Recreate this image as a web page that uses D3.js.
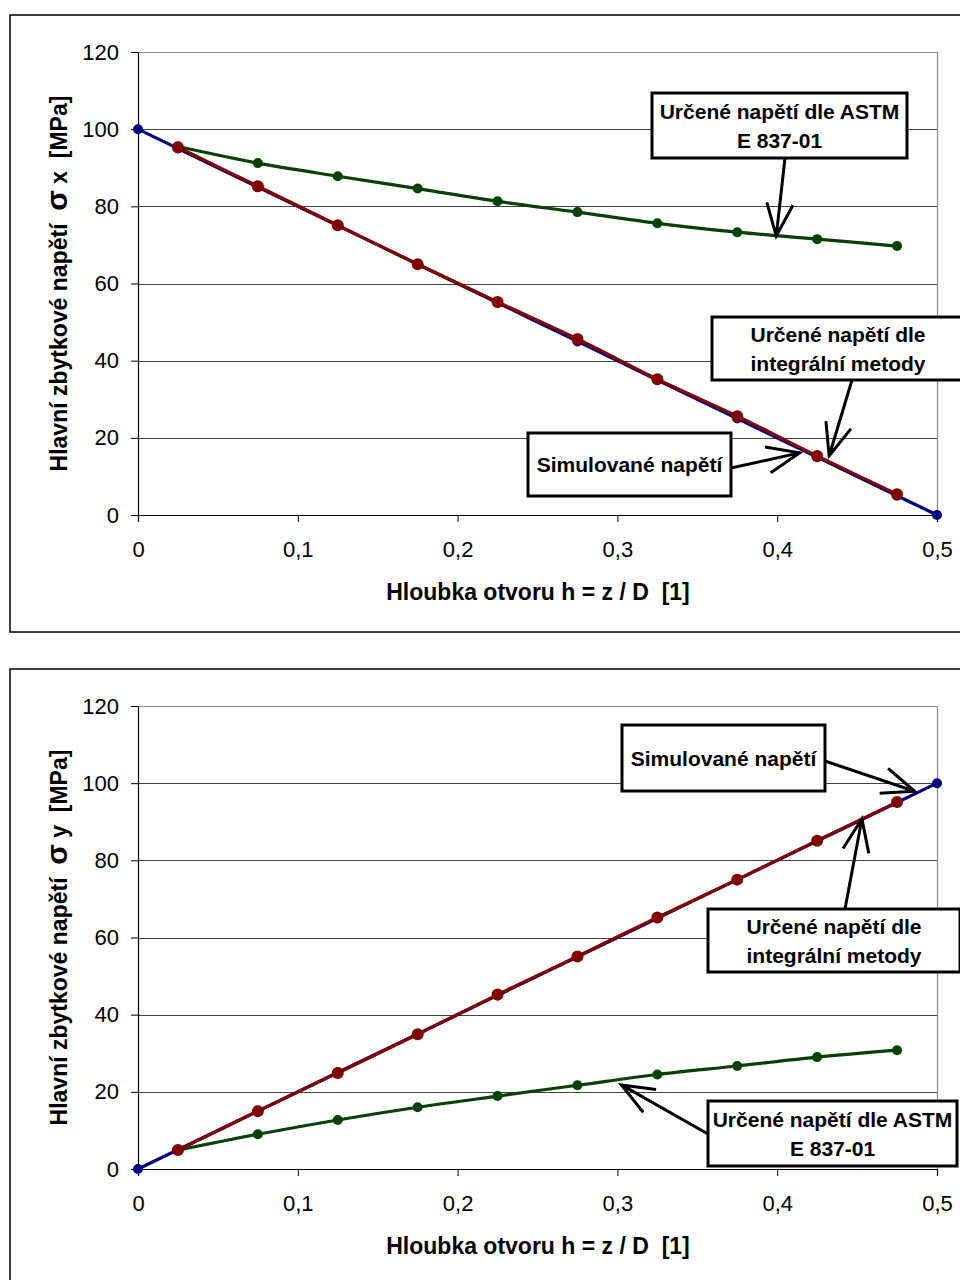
<!DOCTYPE html>
<html><head><meta charset="utf-8">
<script src="https://cdn.jsdelivr.net/npm/d3@7"></script>
<style>html,body{margin:0;padding:0;background:#fff}svg{display:block}text{white-space:pre}</style>
</head><body>
<svg id="c" width="960" height="1280"></svg>
<script>
// ---- data ----
const hSim  = [0, 0.025, 0.075, 0.125, 0.175, 0.225, 0.275, 0.325, 0.375, 0.425, 0.475, 0.5];
const hMeas = [0.025, 0.075, 0.125, 0.175, 0.225, 0.275, 0.325, 0.375, 0.425, 0.475];
const sxSim  = [100, 95, 85, 75, 65, 55, 45, 35, 25, 15, 5, 0];
const sxInt  = [95.3, 85.2, 75.1, 65.0, 55.2, 45.6, 35.2, 25.6, 15.3, 5.4];
const sxAstm = [95.5, 91.2, 87.8, 84.6, 81.3, 78.5, 75.6, 73.3, 71.5, 69.7];
const sySim  = [0, 5, 15, 25, 35, 45, 55, 65, 75, 85, 95, 100];
const syInt  = [4.9, 15.0, 24.9, 34.9, 45.2, 55.1, 65.2, 75.0, 85.1, 95.1];
const syAstm = [4.9, 9.0, 12.7, 16.0, 18.9, 21.7, 24.5, 26.7, 29.0, 30.8];
const xTicks = [0, 0.1, 0.2, 0.3, 0.4, 0.5];
const xTickLabels = ["0", "0,1", "0,2", "0,3", "0,4", "0,5"];
const yTicks = [0, 20, 40, 60, 80, 100, 120];
const xTitle = "Hloubka otvoru h = z / D  [1]";
const lblSim = ["Simulované napětí"];
const lblInt = ["Určené napětí dle", "integrální metody"];
const lblAstm = ["Určené napětí dle ASTM", "E 837-01"];

const C_SIM = "#00007f", C_INT = "#7f0000", C_ASTM = "#0a3f0a";
const FONT = "'Liberation Sans', Arial, sans-serif";

const svg = d3.select("#c");
const W = 799, H = 463;
const x = d3.scaleLinear().domain([0, 0.5]).range([0, W]);
const y = d3.scaleLinear().domain([0, 120]).range([H, 0]);

function chart(cfg) {
  // outer frame
  svg.append("rect").attr("x", cfg.frame[0]).attr("y", cfg.frame[1])
    .attr("width", cfg.frame[2]).attr("height", cfg.frame[3])
    .attr("fill", "none").attr("stroke", "#000").attr("stroke-width", 1.5);

  const g = svg.append("g").attr("transform", `translate(138,${cfg.top})`);
  // gridlines
  g.selectAll("line.grid").data(yTicks.filter(d => d > 0)).join("line")
    .attr("x1", 0).attr("x2", W).attr("y1", d => Math.round(y(d)) + 0.5).attr("y2", d => Math.round(y(d)) + 0.5)
    .attr("stroke", d => d === 120 ? "#8a8a8a" : "#444").attr("stroke-width", 1);
  g.append("line").attr("x1", W + 0.5).attr("x2", W + 0.5).attr("y1", 0).attr("y2", H)
    .attr("stroke", "#8a8a8a").attr("stroke-width", 1.2);

  // axes
  const ax = g.append("g").attr("transform", `translate(0,${H})`)
    .call(d3.axisBottom(x).tickValues(xTicks).tickFormat((d, i) => xTickLabels[i]).tickSize(7).tickPadding(19));
  const ay = g.append("g").call(d3.axisLeft(y).tickValues(yTicks).tickSize(7).tickPadding(12));
  [ax, ay].forEach(a => {
    a.select(".domain").attr("stroke", "#000").attr("stroke-width", 1.2);
    a.selectAll(".tick line").attr("stroke", "#000");
    a.selectAll("text").attr("font-family", FONT).attr("font-size", 22).attr("fill", "#000");
  });
  ay.select(".domain").attr("d", `M-7,0.5H0.5V${H}`);

  // titles
  g.append("text").attr("x", 400).attr("y", H + 85).attr("text-anchor", "middle")
    .attr("font-family", FONT).attr("font-size", 23).attr("font-weight", "bold").text(xTitle);
  const yt = g.append("text").attr("transform", `translate(-71,${H / 2}) rotate(-90)`)
    .attr("text-anchor", "middle").attr("font-family", FONT).attr("font-size", 23).attr("font-weight", "bold");
  yt.append("tspan").text("Hlavní zbytkové napětí  ");
  yt.append("tspan").attr("font-size", 30).text("σ");
  yt.append("tspan").text(" " + cfg.sub + "  [MPa]");

  // series
  const line = d3.line().x(d => x(d[0])).y(d => y(d[1])).curve(d3.curveCatmullRom.alpha(0.5));
  const series = [
    {h: hSim, v: cfg.sim, c: C_SIM, r: 5},
    {h: hMeas, v: cfg.astm, c: C_ASTM, r: 5},
    {h: hMeas, v: cfg.int, c: C_INT, r: 6}
  ];
  series.forEach(s => {
    const pts = s.h.map((h, i) => [h, s.v[i]]);
    g.append("path").attr("d", line(pts)).attr("fill", "none").attr("stroke", s.c).attr("stroke-width", 3.2);
    g.selectAll(null).data(pts).join("circle").attr("cx", d => x(d[0])).attr("cy", d => y(d[1]))
      .attr("r", s.r).attr("fill", s.c);
  });

  // annotations
  cfg.notes.forEach(n => {
    const [bx, by, bw, bh] = n.box;
    const tx = x(n.tip[0]), ty = y(n.tip[1]);
    const [sx, sy] = n.from;
    const ang = Math.atan2(sy - ty, sx - tx), L = 35, sp = 22 * Math.PI / 180;
    const p = `M${sx},${sy}L${tx},${ty}M${tx + L * Math.cos(ang - sp)},${ty + L * Math.sin(ang - sp)}L${tx},${ty}L${tx + L * Math.cos(ang + sp)},${ty + L * Math.sin(ang + sp)}`;
    g.append("path").attr("d", p).attr("fill", "none").attr("stroke", "#000").attr("stroke-width", 3).attr("stroke-linejoin", "miter");
    g.append("rect").attr("x", bx).attr("y", by).attr("width", bw).attr("height", bh)
      .attr("fill", "#fff").attr("stroke", "#000").attr("stroke-width", 3);
    const cx = bx + (n.tcx != null ? n.tcx : bw / 2);
    const t = g.append("text").attr("text-anchor", "middle").attr("font-family", FONT)
      .attr("font-size", 21).attr("font-weight", "bold");
    const n0 = n.lines.length, lh = 29;
    n.lines.forEach((s, i) => {
      t.append("tspan").attr("x", cx).attr("y", by + bh / 2 + (i - (n0 - 1) / 2) * lh + 7.5).text(s);
    });
  });
}

chart({
  top: 52, frame: [10, 15, 960, 617], sub: "x", sim: sxSim, int: sxInt, astm: sxAstm,
  notes: [
    {lines: lblAstm, box: [514, 41, 255, 65], from: [647, 106], tip: [0.3994, 72.3]},
    {lines: lblInt, box: [574, 265, 250, 63], from: [714, 328], tip: [0.4325, 15.3], tcx: 126},
    {lines: lblSim, box: [390, 381, 203, 63], from: [593, 416], tip: [0.414, 16.1]}
  ]
});
chart({
  top: 706, frame: [10, 669, 960, 620], sub: "y", sim: sySim, int: syInt, astm: syAstm,
  notes: [
    {lines: lblSim, box: [484, 19, 203, 66], from: [687, 55], tip: [0.486, 97.9]},
    {lines: lblInt, box: [570, 203, 252, 63], from: [707, 203], tip: [0.453, 90.7], tcx: 126},
    {lines: lblAstm, box: [570, 395, 249, 65], from: [570, 428], tip: [0.3025, 21.8]}
  ]
});
</script>
</body></html>
